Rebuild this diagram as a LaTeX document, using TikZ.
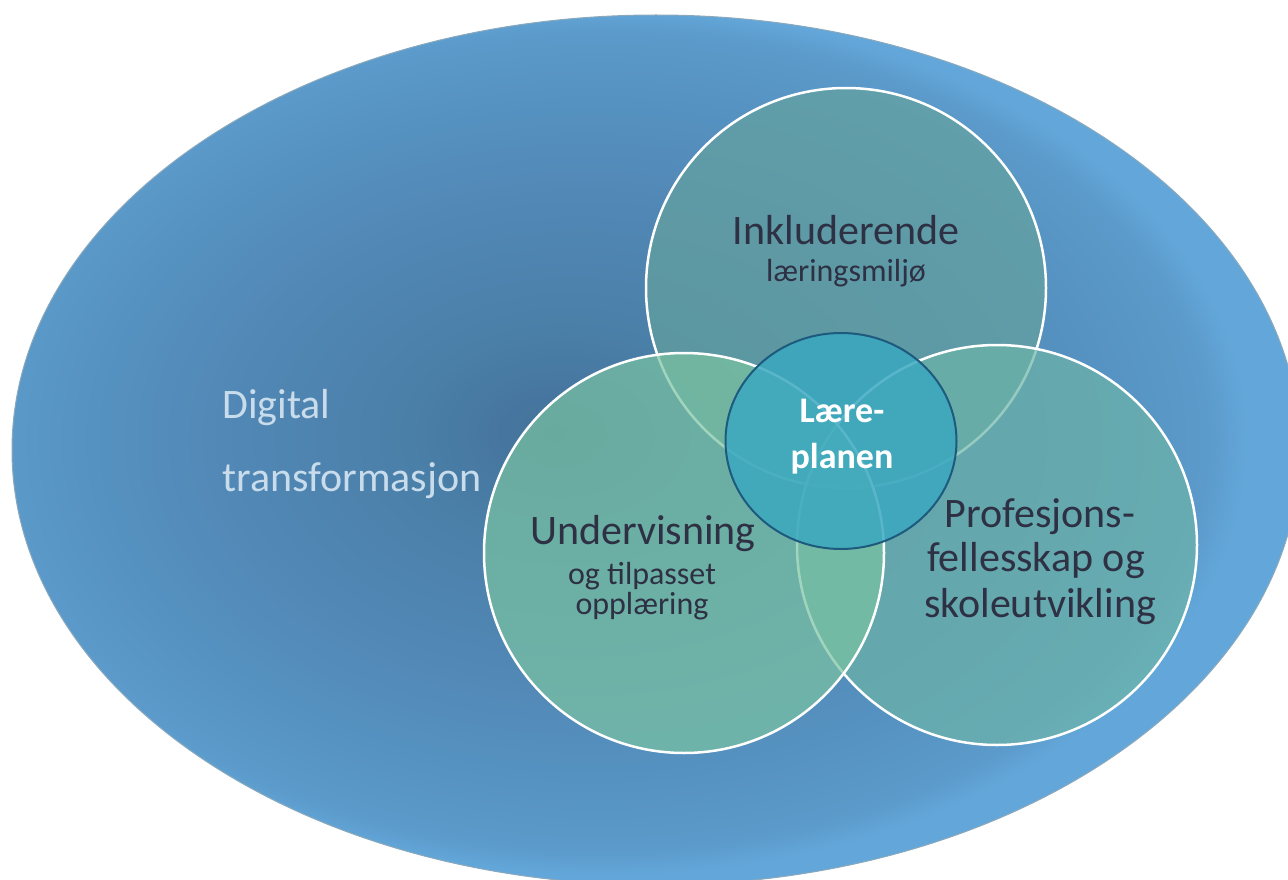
\documentclass[tikz,border=0pt]{standalone}
\usepackage{fontspec}
\setmainfont{Carlito}
\usetikzlibrary{shapes.geometric}
\definecolor{bgA}{HTML}{44719A}
\definecolor{bgB}{HTML}{4A7FA8}
\definecolor{bgC}{HTML}{5288B6}
\definecolor{bgD}{HTML}{5693C2}
\definecolor{bgF}{HTML}{5B9ACA}
\definecolor{bgE}{HTML}{63A7DA}
\definecolor{rimcol}{HTML}{8AA9BD}
\definecolor{tealTop}{RGB}{100,162,158}
\definecolor{tealRight}{RGB}{108,180,168}
\definecolor{tealLeft}{RGB}{122,195,162}
\definecolor{coreFill}{RGB}{58,168,192}
\definecolor{coreRim}{HTML}{1E5A7E}
\definecolor{txtdark}{RGB}{46,48,68}
\definecolor{txtlight}{HTML}{C8DCEC}
\pgfdeclareradialshading{bgshade}{\pgfpoint{-4bp}{1bp}}{%
  color(0bp)=(bgA); color(6bp)=(bgB); color(14bp)=(bgC); color(20bp)=(bgD); color(23.5bp)=(bgF); color(25bp)=(bgE); color(50bp)=(bgE)}
\tikzset{
  area/.style={circle, minimum size=400pt, inner sep=0pt, draw=white, line width=2.5pt, fill opacity=0.7},
  core/.style={ellipse, minimum width=231pt, minimum height=216pt, inner sep=0pt, draw=coreRim, line width=2pt, fill=coreFill, fill opacity=0.84},
  big/.style={font=\fontsize{42}{50}\selectfont, text=txtdark, anchor=base, inner sep=0pt},
  small/.style={font=\fontsize{32}{38}\selectfont, text=txtdark, anchor=base, inner sep=0pt},
  light/.style={font=\fontsize{42}{50}\selectfont, text=txtlight, anchor=base west, inner sep=0pt},
  corelbl/.style={font=\fontsize{36}{42}\selectfont\bfseries, text=white, anchor=base, inner sep=0pt}
}
\begin{document}
\begin{tikzpicture}[x=1pt,y=-1pt]
\useasboundingbox (0,0) rectangle (1288,880);
\clip (0,0) rectangle (1288,880);
\shade[shading=bgshade, draw=rimcol, line width=1pt] (656,450) ellipse [x radius=644, y radius=435];
\node[area, fill=tealTop] (top) at (846,288) {};
\node[area, fill=tealRight] (right) at (997,545) {};
\node[area, fill=tealLeft] (left) at (684,553) {};
\node[core] (mid) at (841,441) {};
\node[big] (t1) at (846,244) {Inkluderende};
\node[small] (t2) at (846,281) {læringsmiljø};
\node[big] (u1) at (643,544) {Undervisning};
\node[small] (u2) at (642,584) {og tilpasset};
\node[small] (u3) at (642,614) {opplæring};
\node[big] (p1) at (1040,527) {Profesjons-};
\node[big] (p2) at (1036,571) {fellesskap og};
\node[big] (p3) at (1040,617) {skoleutvikling};
\node[light] (d1) at (222,418) {Digital};
\node[light] (d2) at (222,491) {transformasjon};
\node[corelbl] (l1) at (842,422) {Lære-};
\node[corelbl] (l2) at (842,468) {planen};
\end{tikzpicture}
\end{document}
